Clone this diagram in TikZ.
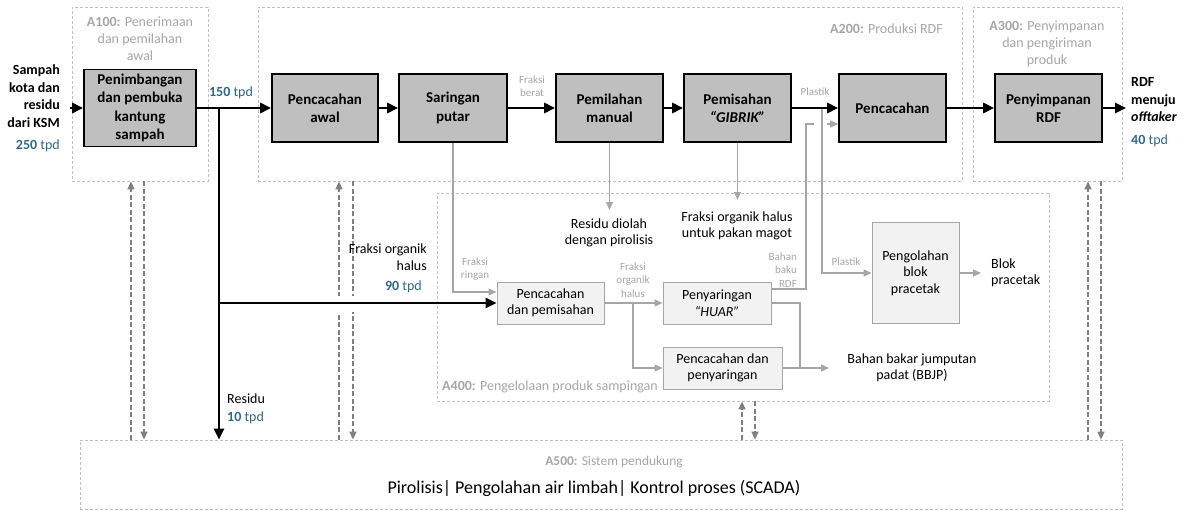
\documentclass[tikz,border=0pt]{standalone}
\usepackage{fontspec}
\setmainfont{Carlito}
\usetikzlibrary{arrows.meta,calc}

\definecolor{boxgray}{HTML}{BFBFBF}
\definecolor{lightbox}{HTML}{F2F2F2}
\definecolor{linegray}{HTML}{A6A6A6}
\definecolor{dashgray}{HTML}{808080}
\definecolor{framegray}{HTML}{BFBFBF}
\definecolor{labelgray}{HTML}{A6A6A6}
\definecolor{tpdblue}{HTML}{2E6A87}

\newcommand\tpd[1]{\textcolor{tpdblue}{\textbf{#1} tpd}}

\tikzset{
  mainbox/.style={draw=black, line width=1.6pt, fill=boxgray,
    font=\fontsize{15}{18.3}\selectfont\bfseries, align=center,
    minimum height=68pt, minimum width=107pt, inner sep=2pt},
  subbox/.style={draw=linegray, line width=1pt, fill=lightbox,
    font=\fontsize{14}{16.5}\selectfont, align=center,
    minimum height=42pt, inner sep=2pt},
  group/.style={draw=framegray, line width=0.8pt, dash pattern=on 3pt off 2pt},
  mainflow/.style={line width=2.6pt, -{Triangle[length=11pt,width=10pt]}},
  mainline/.style={line width=2.6pt},
  sideline/.style={draw=linegray, line width=1.3pt},
  sideflow/.style={sideline, -{Triangle[length=8pt,width=7pt]}},
  support/.style={draw=dashgray, line width=1.4pt, dash pattern=on 5pt off 2.5pt,
    -{Triangle[length=8pt,width=7pt]}},
  note/.style={font=\fontsize{14}{16.5}\selectfont, align=center, inner sep=0pt},
  boldnote/.style={font=\fontsize{14}{17.5}\selectfont\bfseries, inner sep=0pt},
  tiny/.style={font=\fontsize{11}{13.5}\selectfont, text=labelgray, align=center, inner sep=0pt},
  grouplabel/.style={font=\fontsize{14}{17}\selectfont, text=labelgray, align=center, inner sep=0pt},
}

\begin{document}
\begin{tikzpicture}[x=1pt,y=-1pt]
\useasboundingbox (0,0) rectangle (1194,511);

% ---------- dashed group frames ----------
\node[group, minimum width=136pt, minimum height=174pt] (gA100) at (140,94) {};
\node[group, minimum width=704pt, minimum height=174pt] (gA200) at (610,94) {};
\node[group, minimum width=149pt, minimum height=174pt] (gA300) at (1047.5,94) {};
\node[group, minimum width=612pt, minimum height=208pt] (gA400) at (743,297) {};
\node[group, minimum width=1042pt, minimum height=69pt] (gA500) at (601,474.5) {};

% group titles
\node[grouplabel] (tA100) at (140,39) {\textbf{A100:} Penerimaan\\dan pemilahan\\awal};
\node[grouplabel, anchor=east] (tA200) at (943,29) {\textbf{A200:} Produksi RDF};
\node[grouplabel] (tA300) at (1047,44) {\textbf{A300:} Penyimpanan\\dan pengiriman\\produk};
\node[grouplabel, anchor=west] (tA400) at (442,387) {\textbf{A400:} Pengelolaan produk sampingan};
\node[grouplabel, font=\fontsize{13.5}{16}\selectfont] (tA500) at (614,462) {\textbf{A500:} Sistem pendukung};
\node[note, font=\fontsize{18}{21}\selectfont] (sup) at (594,488) {Pirolisis| Pengolahan air limbah| Kontrol proses (SCADA)};

% ---------- main process boxes ----------
\node[mainbox, minimum width=112pt, minimum height=77pt] (pen) at (140,108) {Penimbangan\\dan pembuka\\kantung\\sampah};
\node[mainbox, minimum width=106pt] (pca) at (325,108) {Pencacahan\\awal};
\node[mainbox, minimum width=108pt] (sar) at (453,108) {Saringan\\putar};
\node[mainbox] (pml) at (609.5,108) {Pemilahan\\manual};
\node[mainbox] (gib) at (737.5,108) {Pemisahan\\\textit{“GIBRIK”}};
\node[mainbox] (pcc) at (892.5,108) {Pencacahan};
\node[mainbox] (psr) at (1048.5,108) {Penyimpanan\\RDF};

% ---------- by-product boxes ----------
\node[subbox, minimum width=107pt] (cpm) at (550.5,303) {Pencacahan\\dan pemisahan};
\node[subbox, minimum width=108pt] (huar) at (717,303) {Penyaringan\\\textit{“HUAR”}};
\node[subbox, minimum width=119pt] (cpy) at (722.5,368) {Pencacahan dan\\penyaringan};
\node[subbox, minimum width=87pt, minimum height=101pt] (blok) at (915.5,273) {Pengolahan\\blok\\pracetak};

% ---------- support links (dashed) ----------
\draw[support] (131,0 |- gA500.north) -- (131,0 |- gA100.south);
\draw[support] (144,0 |- gA100.south) -- (144,0 |- gA500.north);
\draw[support] (339,0 |- gA500.north) -- (339,0 |- gA200.south);
\draw[support] (353,0 |- gA200.south) -- (353,0 |- gA500.north);
\draw[support] (742,0 |- gA500.north) -- (742,0 |- gA400.south);
\draw[support] (755,0 |- gA400.south) -- (755,0 |- gA500.north);
\draw[support] (1088,0 |- gA500.north) -- (1088,0 |- gA300.south);
\draw[support] (1101,0 |- gA300.south) -- (1101,0 |- gA500.north);
% gap where the organic-fraction line crosses the dashed links
\fill[white] (325,296) rectangle (366,312);

% ---------- side flows (grey) ----------
\coordinate (plTop) at (822,108);
\draw[sideflow] (plTop) |- (blok.west);
\draw[sideflow] (sar.south) |- ([yshift=11pt]cpm.west);
\draw[sideflow] (pml.south) -- (pml.south |- 0,210);
\draw[sideflow] (gib.south) -- (gib.south |- 0,200);
\draw[sideflow] (cpm.east) -- (huar.west);
\coordinate (fork) at (633,303);
\draw[sideflow] (fork) |- (cpy.west);
\coordinate (hMerge) at (800,368);
\draw[sideline] (huar.east) -| (hMerge);
\coordinate (bbjpEnd) at (829,368);
\draw[sideflow] (cpy.east) -- (bbjpEnd);
\coordinate (rdfUp) at (806,124);
\coordinate (jumpA) at (814,124);
\coordinate (jumpB) at (827,124);
\draw[sideline] ([yshift=14pt]huar.east) -| (rdfUp) -- (jumpA);
\draw[sideflow] (jumpB) -- (pcc.west |- 0,124);
\coordinate (blokEnd) at (981,273);
\draw[sideflow] (blok.east) -- (blokEnd);

% ---------- main flow (black) ----------
\coordinate (src) at (70,108);
\coordinate (j) at (219,108);
\coordinate (j2) at (219,303);
\coordinate (resEnd) at (219,0 |- gA500.north);
\coordinate (out) at (1126,108);
\draw[mainflow] (src) -- (pen);
\draw[mainline] (pen.east) -- (j);
\draw[mainflow] (j) -- (pca);
\draw[mainflow] (j) -- (resEnd);
\draw[mainflow] (j2) -- (cpm);
\draw[mainflow] (pca) -- (sar);
\draw[mainflow] (sar) -- (pml);
\draw[mainflow] (pml) -- (gib);
\draw[mainflow] (gib) -- (pcc);
\draw[mainflow] (pcc) -- (psr);
\draw[mainflow] (psr) -- (out);

% ---------- flow labels ----------
\node[boldnote, align=right, anchor=east] (inLbl) at (60,96) {Sampah\\kota dan\\residu\\dari KSM};
\node[note, anchor=east] (inTpd) at (60,146) {\tpd{250}};
\node[note] (t150) at (231,93) {\tpd{150}};
\node[note, align=right, anchor=east] (orgLbl) at (427,257) {Fraksi organik\\halus};
\node[note, anchor=east] (t90) at (422,287) {\tpd{90}};
\node[note, anchor=west] (resLbl) at (227,399) {Residu};
\node[note, anchor=west] (t10) at (227,418) {\tpd{10}};
\node[boldnote, align=left, anchor=west] (outLbl) at (1131,100) {RDF\\menuju\\\textit{offtaker}};
\node[note, anchor=west] (t40) at (1131,141) {\tpd{40}};

\node[tiny] (fBerat) at (532,86) {Fraksi\\berat};
\node[tiny] (plA) at (815,92) {Plastik};
\node[tiny] (fRingan) at (475,269) {Fraksi\\ringan};
\node[tiny] (fOrg) at (633,280) {Fraksi\\organik\\halus};
\node[tiny, align=right, anchor=east] (bbRdf) at (797,270) {Bahan\\baku\\RDF};
\node[tiny] (plB) at (846,262) {Plastik};

\node[note] (pirLbl) at (609,233) {Residu diolah\\dengan pirolisis};
\node[note] (magLbl) at (737,226) {Fraksi organik halus\\untuk pakan magot};
\node[note] (bbjpLbl) at (912,368) {Bahan bakar jumputan\\padat (BBJP)};
\node[note, align=left, anchor=west] (blokLbl) at (991,273) {Blok\\pracetak};

\end{tikzpicture}
\end{document}
